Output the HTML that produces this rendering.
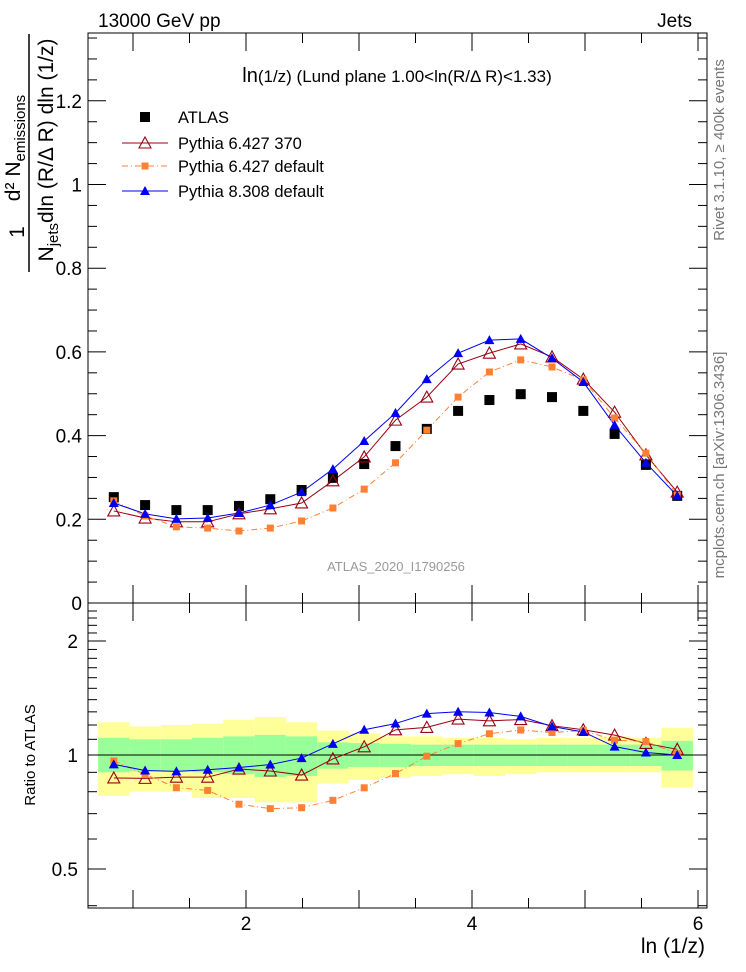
<!DOCTYPE html>
<html><head><meta charset="utf-8">
<style>
body{margin:0;background:#fff;}
svg{display:block;font-family:"Liberation Sans",sans-serif;}
</style></head>
<body>
<svg id="c" width="746" height="972" xmlns="http://www.w3.org/2000/svg">
<text x="98" y="27" font-size="19">13000 GeV pp</text>
<text x="692" y="27" font-size="19" text-anchor="end">Jets</text>
<text x="397" y="82" font-size="17" text-anchor="middle"><tspan font-size="20">ln</tspan>(1/z) (Lund plane 1.00&lt;ln(R/Δ R)&lt;1.33)</text>
<text x="396" y="571" font-size="13" fill="#999" text-anchor="middle">ATLAS_2020_I1790256</text>
<text transform="translate(724,150) rotate(-90)" font-size="15" fill="#777" text-anchor="middle">Rivet 3.1.10, ≥ 400k events</text>
<text transform="translate(724,465) rotate(-90)" font-size="15" fill="#777" text-anchor="middle">mcplots.cern.ch [arXiv:1306.3436]</text>
<g font-size="21">
<text transform="translate(24,232) rotate(-90)" text-anchor="middle">1</text>
<line x1="29" y1="34" x2="29" y2="272" stroke="#000" stroke-width="1.5"/>
<text transform="translate(20,148) rotate(-90)" text-anchor="middle">d² N<tspan font-size="15" dy="5">emissions</tspan></text>
<text transform="translate(53,150) rotate(-90)" text-anchor="middle">N<tspan font-size="15" dy="5">jets</tspan><tspan dy="-5">dln (R/Δ R) dln (1/z)</tspan></text>
</g>
<text transform="translate(35,755) rotate(-90)" font-size="15" text-anchor="middle">Ratio to ATLAS</text>
<text x="705" y="953" font-size="21" text-anchor="end">ln (1/z)</text>
<g id="g"></g>
</svg>
<script>
const xCenters=[0.83,1.107,1.384,1.661,1.938,2.215,2.492,2.769,3.046,3.323,3.6,3.877,4.154,4.431,4.708,4.985,5.262,5.539,5.816];
const atlas=[0.253,0.234,0.222,0.222,0.232,0.248,0.270,0.299,0.332,0.375,0.416,0.459,0.485,0.499,0.492,0.459,0.404,0.330,0.256];
const py6_370=[0.220,0.203,0.194,0.194,0.213,0.225,0.239,0.292,0.349,0.437,0.492,0.571,0.597,0.619,0.588,0.535,0.456,0.354,0.265];
const py6_def=[0.244,0.208,0.182,0.179,0.172,0.179,0.196,0.227,0.272,0.335,0.413,0.492,0.552,0.581,0.564,0.533,0.442,0.358,0.258];
const py8_def=[0.239,0.213,0.201,0.203,0.215,0.234,0.265,0.320,0.387,0.454,0.535,0.597,0.628,0.631,0.585,0.528,0.425,0.335,0.256];
const yelUp=[1.22,1.19,1.20,1.21,1.24,1.26,1.22,1.16,1.14,1.12,1.12,1.11,1.11,1.10,1.11,1.11,1.12,1.11,1.18];
const yelDn=[0.78,0.80,0.80,0.77,0.77,0.75,0.75,0.84,0.86,0.87,0.88,0.89,0.88,0.89,0.90,0.90,0.90,0.90,0.82];
const grnUp=[1.11,1.10,1.10,1.11,1.12,1.13,1.12,1.08,1.075,1.07,1.065,1.065,1.065,1.065,1.065,1.065,1.065,1.065,1.09];
const grnDn=[0.90,0.905,0.905,0.90,0.89,0.875,0.88,0.92,0.93,0.93,0.935,0.935,0.935,0.935,0.935,0.935,0.935,0.935,0.91];
const mainTicks=[0,0.2,0.4,0.6,0.8,1,1.2];
const ratioTicks=[0.5,1,2];
const xTicks=[2,4,6];
const halfW=0.1385;

const L=88,R=707,T=33,MB=603,RB=908;
const X=v=>246+(v-2)*113;
const Y=v=>603-v*418.5;
const YR=r=>755-114*Math.log2(r);
const NS="http://www.w3.org/2000/svg";
const g=document.getElementById('g');
function mk(tag,at,parent){const e=document.createElementNS(NS,tag);for(const k in at)e.setAttribute(k,at[k]);(parent||g).appendChild(e);return e;}

for(let i=0;i<xCenters.length;i++){
  const x0=X(xCenters[i]-halfW),x1=X(xCenters[i]+halfW);
  const y=mk('rect',{x:x0,y:YR(yelUp[i]),width:x1-x0,height:YR(yelDn[i])-YR(yelUp[i]),fill:'#ffff99'});
  
  
  const gr=mk('rect',{x:x0,y:YR(grnUp[i]),width:x1-x0,height:YR(grnDn[i])-YR(grnUp[i]),fill:'#99ff99'});
  
  
}
const one=mk('line',{x1:L,x2:R,y1:YR(1),y2:YR(1),stroke:'#000','stroke-width':1});



const f1=mk('rect',{x:L,y:T,width:R-L,height:MB-T,fill:'none',stroke:'#000'});


const f2=mk('rect',{x:L,y:MB,width:R-L,height:RB-MB,fill:'none',stroke:'#000'});



for(let v=0;v<=1.36;v+=0.05){
  const maj=Math.abs(v/0.2-Math.round(v/0.2))<1e-6;const len=maj?18:9;const y=Y(v);
  mk('line',{x1:L,x2:L+len,y1:y,y2:y,stroke:'#000'});mk('line',{x1:R,x2:R-len,y1:y,y2:y,stroke:'#000'});
}
mainTicks.forEach(v=>{const t=mk('text',{x:L-6,y:Y(v)+7,'font-size':19,'text-anchor':'end'});t.textContent=String(v);

});
for(let r=0.4;r<=2.5;r+=0.1){const y=YR(r);if(y<MB||y>RB)continue;
  const maj=ratioTicks.some(m=>Math.abs(m-r)<1e-6);const len=maj?18:9;
  mk('line',{x1:L,x2:L+len,y1:y,y2:y,stroke:'#000'});mk('line',{x1:R,x2:R-len,y1:y,y2:y,stroke:'#000'});}
ratioTicks.forEach(v=>{const t=mk('text',{x:L-10,y:YR(v)+7,'font-size':19,'text-anchor':'end'});t.textContent=String(v);

});
for(let v=1;v<=6;v+=0.5){const x=X(v);if(x<L||x>R)continue;const maj=Number.isInteger(v);const len=maj?18:10;
  mk('line',{x1:x,x2:x,y1:T,y2:T+len,stroke:'#000'});mk('line',{x1:x,x2:x,y1:MB,y2:MB-len,stroke:'#000'});
  mk('line',{x1:x,x2:x,y1:MB,y2:MB+len,stroke:'#000'});mk('line',{x1:x,x2:x,y1:RB,y2:RB-len,stroke:'#000'});}
xTicks.forEach(v=>{const t=mk('text',{x:X(v),y:RB+22,'font-size':19,'text-anchor':'middle'});t.textContent=String(v);

});

function marker(type,x,y,color){
  if(type==='sq')return mk('rect',{x:x-5,y:y-5,width:10,height:10,fill:color});
  if(type==='sqs')return mk('rect',{x:x-3.5,y:y-3.5,width:7,height:7,fill:color});
  if(type==='tri')return mk('polygon',{points:`${x},${y-5} ${x-5},${y+4} ${x+5},${y+4}`,fill:color});
  if(type==='otri')return mk('polygon',{points:`${x},${y-6} ${x-6},${y+5} ${x+6},${y+5}`,fill:'none',stroke:color,'stroke-width':1.1});
}
const series=[
 {d:py6_370,c:'#990011',m:'otri',dash:'',name:'pythia6-370'},
 {d:py6_def,c:'#ff8033',m:'sqs',dash:'6,3,1,3',name:'pythia6-default'},
 {d:py8_def,c:'#0000ee',m:'tri',dash:'',name:'pythia8-default'}];
series.forEach(s=>{
  const pts=s.d.map((v,i)=>X(xCenters[i])+','+Y(v)).join(' ');
  const l=mk('polyline',{points:pts,fill:'none',stroke:s.c,'stroke-width':1,'stroke-dasharray':s.dash});
  
  
  const rp=s.d.map((v,i)=>X(xCenters[i])+','+YR(v/atlas[i])).join(' ');
  const rl=mk('polyline',{points:rp,fill:'none',stroke:s.c,'stroke-width':1,'stroke-dasharray':s.dash});
  
  
});
atlas.forEach((v,i)=>{const m=marker('sq',X(xCenters[i]),Y(v),'#000');
  
  });
series.forEach(s=>{s.d.forEach((v,i)=>{
  const m=marker(s.m,X(xCenters[i]),Y(v),s.c);
  
  
  const r=marker(s.m,X(xCenters[i]),YR(v/atlas[i]),s.c);
  
  
});});

const leg=[{m:'sq',c:'#000',t:'ATLAS',line:false,dash:''},{m:'otri',c:'#990011',t:'Pythia 6.427 370',line:true,dash:''},
 {m:'sqs',c:'#ff8033',t:'Pythia 6.427 default',line:true,dash:'6,3,1,3'},{m:'tri',c:'#0000ee',t:'Pythia 8.308 default',line:true,dash:''}];
const ly=[117,143,166,191];
leg.forEach((e,i)=>{
  if(e.line)mk('line',{x1:122,x2:168,y1:ly[i],y2:ly[i],stroke:e.c,'stroke-dasharray':e.dash});
  marker(e.m,145,ly[i],e.c);
  const t=mk('text',{x:178,y:ly[i]+6,'font-size':16.5});t.textContent=e.t;
  
  
});
</script>
</body></html>
